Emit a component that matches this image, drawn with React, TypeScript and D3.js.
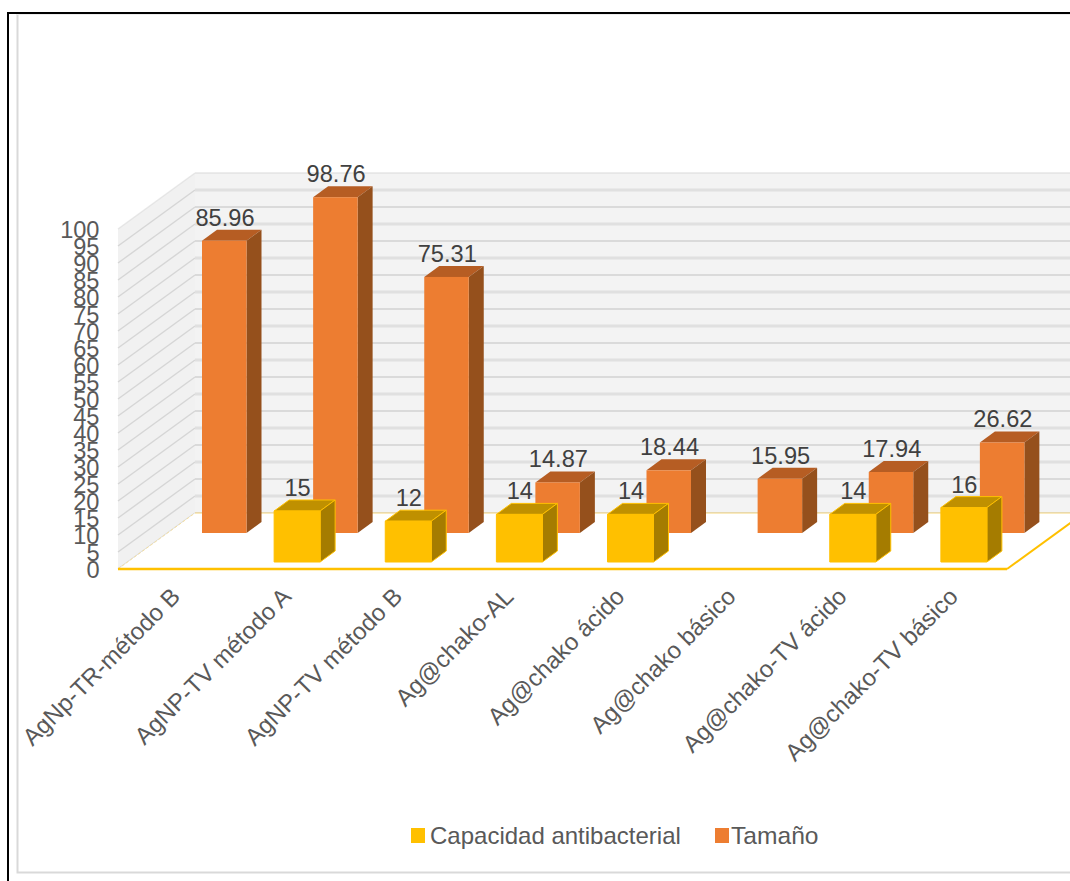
import React from "react";
import * as d3 from "d3";

const categories = ["AgNp-TR-método B","AgNP-TV método A","AgNP-TV método B","Ag@chako-AL","Ag@chako ácido","Ag@chako básico","Ag@chako-TV ácido","Ag@chako-TV básico"];
const capacidad: (number|null)[] = [null,15,12,14,14,null,14,16];
const tamano = [85.96,98.76,75.31,14.87,18.44,15.95,17.94,26.62];
const tamanoLabels = ["85.96","98.76","75.31","14.87","18.44","15.95","17.94","26.62"];
const yTicks = d3.range(0,101,5);
const seriesNames = ["Capacidad antibacterial","Tamaño"];

const FONT = "'Liberation Sans', Arial, sans-serif";
const W = 1070, H = 881;
const frontX0 = 118, frontX1 = 1007, frontY0 = 569, frontY100 = 229;
const depthX = 77, depthY = -56;
const x = d3.scaleBand<number>().domain(d3.range(categories.length)).range([frontX0, frontX1]);
const yFront = d3.scaleLinear().domain([0,100]).range([frontY0, frontY100]);
const pts = (p: number[][]) => p.map(a => a.join(",")).join(" ");

function Bar({x0, w, base, value, dx, dy, fill, top, side, stroke}: any) {
  const h = yFront(0) - yFront(value);
  const yt = base - h;
  return <g stroke={stroke} strokeWidth={stroke === "none" ? 0 : 1} strokeLinejoin="round">
    <polygon points={pts([[x0,yt],[x0+dx,yt+dy],[x0+w+dx,yt+dy],[x0+w,yt]])} fill={top}/>
    <polygon points={pts([[x0+w,yt],[x0+w+dx,yt+dy],[x0+w+dx,base+dy],[x0+w,base]])} fill={side}/>
    <rect x={x0} y={yt} width={w} height={h} fill={fill}/>
  </g>;
}

export default function App() {
  const step = x.step();
  const bx0 = frontX0 + depthX, by0 = frontY0 + depthY, by100 = frontY100 + depthY;
  const orangeX = (i: number) => x(i)! + 84;
  const yellowX = (i: number) => x(i)! + 45;
  const orangeBase = 533, yellowBase = 562;
  return (
    <svg width={W} height={H} viewBox={`0 0 ${W} ${H}`} style={{position:"absolute",left:0,top:0,display:"block",background:"#fff"}}>
      {/* frame */}
      <path d={`M17.5 14V872.5H${W}`} fill="none" stroke="#d9d9d9" strokeWidth={2}/>
      <path d={`M8 ${H}V13H${W}`} fill="none" stroke="#000" strokeWidth={2}/>
      <path d={`M17 14.5H${W}`} fill="none" stroke="#ececec" strokeWidth={1}/>
      {/* walls */}
      <polygon points={pts([[bx0,by100],[W+40,by100],[W+40,by0],[bx0,by0]])} fill="#f3f3f3"/>
      <polygon points={pts([[frontX0,frontY100],[bx0,by100],[bx0,by0],[frontX0,frontY0]])} fill="#f1f1f1"/>
      {yTicks.map((t,i) => (
        <g key={t} fill="none" opacity={t===100?0.5:1}>
          <line x1={frontX0} y1={yFront(t)} x2={bx0} y2={yFront(t)+depthY} stroke="#d6d6d6" strokeWidth={1.4}/>
          <line x1={bx0} y1={yFront(t)+depthY} x2={W} y2={yFront(t)+depthY} stroke={i%2 ? "#e0e0e0" : "#dadada"} strokeWidth={i%2 ? 3 : 2}/>
        </g>
      ))}
      {/* floor */}
      <polygon points={pts([[frontX0,frontY0],[bx0,by0],[frontX1+depthX,by0],[frontX1,frontY0]])} fill="#fff"/>
      <line x1={frontX0} y1={frontY0} x2={bx0} y2={by0} stroke="#f5dfa0" strokeWidth={1} strokeDasharray="3 2"/>
      <line x1={bx0} y1={by0} x2={W} y2={by0} stroke="#f6d67c" strokeWidth={1.2}/>
      <line x1={frontX1} y1={frontY0} x2={frontX1+depthX} y2={by0} stroke="#ffc000" strokeWidth={2}/>
      <line x1={frontX0} y1={frontY0} x2={frontX1} y2={frontY0} stroke="#ffc000" strokeWidth={2.5}/>
      {/* y ticks */}
      {yTicks.map(t => (
        <text key={t} x={99.5} y={yFront(t)+9} textAnchor="end" fontFamily={FONT} fontSize={23.6} fill="#595959">{t}</text>
      ))}
      {/* bars */}
      {tamano.map((v,i) => (
        <Bar key={i} x0={orangeX(i)} w={44.5} base={orangeBase} value={v} dx={15} dy={-11} fill="#ed7d31" top="#b65d23" side="#95501c" stroke="none"/>
      ))}
      {capacidad.map((v,i) => v == null ? null : (
        <Bar key={i} x0={yellowX(i)} w={46} base={yellowBase} value={v} dx={15} dy={-11} fill="#ffc000" top="#bf9000" side="#a57c00" stroke="#ffc000"/>
      ))}
      {/* data labels */}
      {tamano.map((v,i) => (
        <text key={i} x={orangeX(i)+23} y={orangeBase-(yFront(0)-yFront(v))-15} textAnchor="middle" fontFamily={FONT} fontSize={23.6} fill="#404040">{tamanoLabels[i]}</text>
      ))}
      {capacidad.map((v,i) => v == null ? null : (
        <text key={i} x={yellowX(i)+23.5} y={yellowBase-(yFront(0)-yFront(v))-15} textAnchor="middle" fontFamily={FONT} fontSize={23.6} fill="#404040">{v}</text>
      ))}
      {/* category labels */}
      {categories.map((c,i) => {
        const tx = x(i)! + step/2 + 8, ty = 598;
        return <text key={c} transform={`translate(${tx},${ty}) rotate(-45)`} textAnchor="end" fontFamily={FONT} fontSize={24} fill="#595959">{c}</text>;
      })}
      {/* legend */}
      <rect x={411} y={828} width={14} height={15} fill="#ffc000"/>
      <text x={430} y={844} fontFamily={FONT} fontSize={24} fill="#595959">{seriesNames[0]}</text>
      <rect x={715} y={828} width={14} height={15} fill="#ed7d31"/>
      <text x={731} y={844} fontFamily={FONT} fontSize={24.6} fill="#595959">{seriesNames[1]}</text>
    </svg>
  );
}
